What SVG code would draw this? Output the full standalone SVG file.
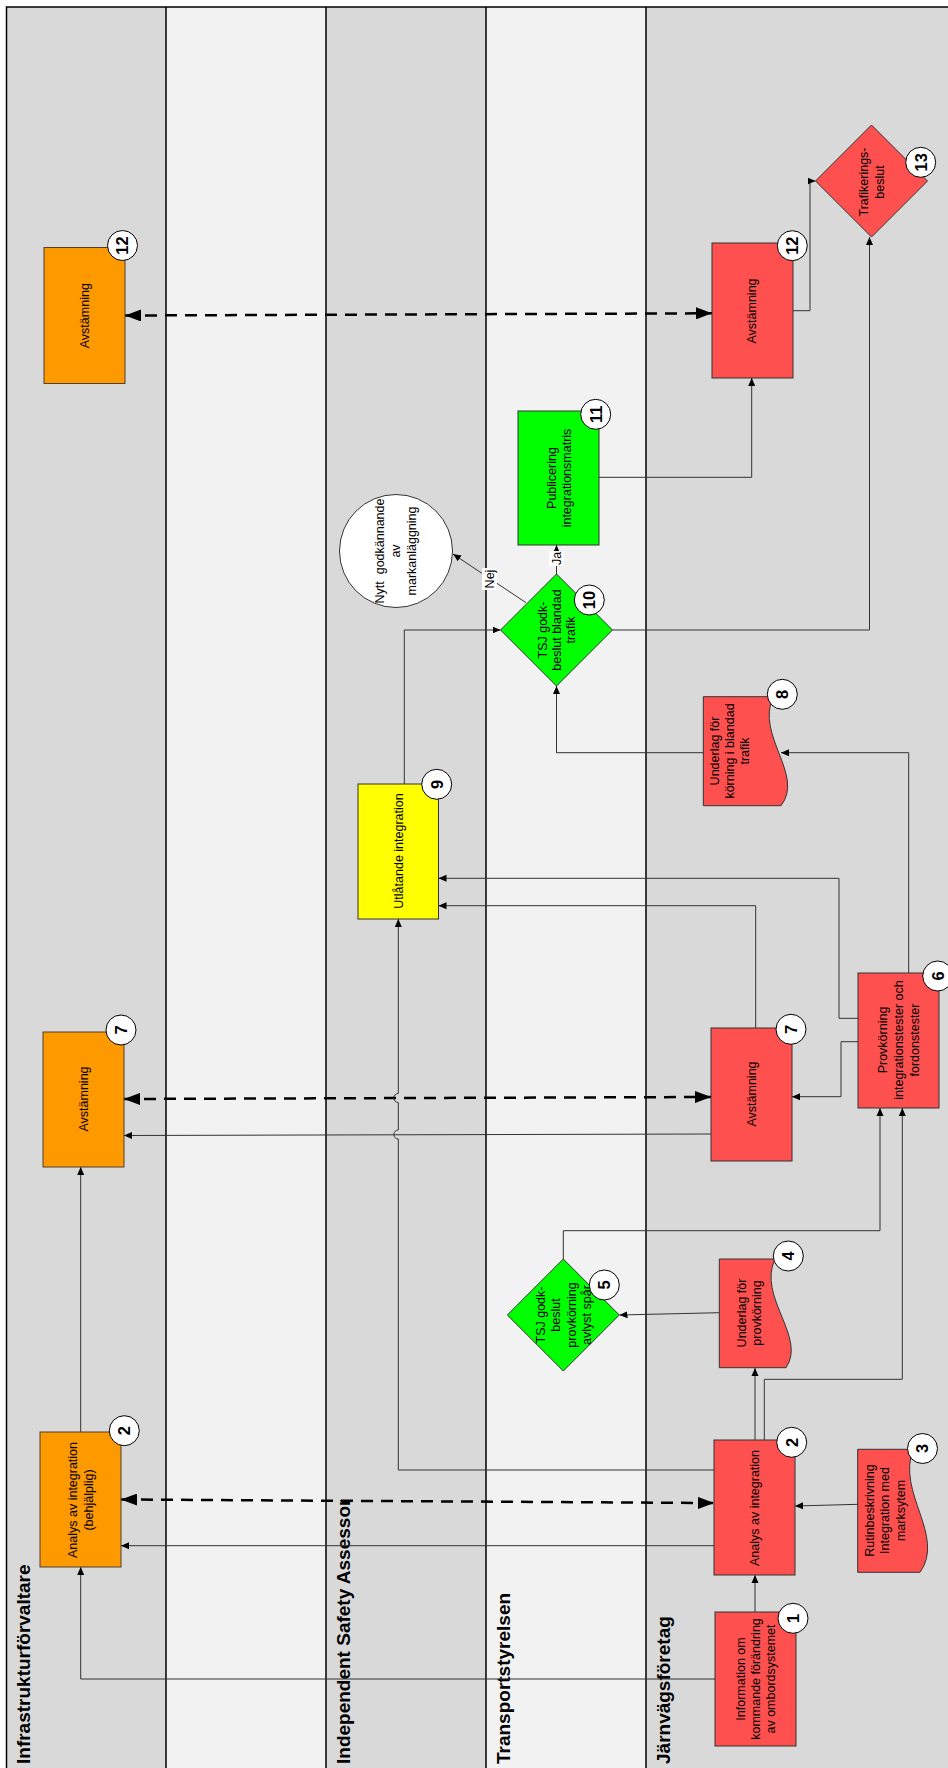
<svg xmlns="http://www.w3.org/2000/svg" width="948" height="1768" viewBox="0 0 948 1768">
<defs>
<style>
.lane-d{fill:#d9d9d9}
.lane-l{fill:#f2f2f2}
.div{stroke:#000;stroke-width:1.5;fill:none}
.lbl{font-family:"Liberation Sans",Arial,sans-serif;font-weight:bold;font-size:19px;fill:#000}
.t{font-family:"Liberation Sans",Arial,sans-serif;font-size:12.5px;fill:#000;text-anchor:middle}
.red{fill:#ff5050;stroke:#333;stroke-width:1}
.org{fill:#ff9900;stroke:#4d4030;stroke-width:1}
.grn{fill:#00ff00;stroke:#333;stroke-width:1}
.yel{fill:#ffff00;stroke:#333;stroke-width:1}
.wht{fill:#fff;stroke:#333;stroke-width:1}
.badge circle{fill:#fff;stroke:#000;stroke-width:1}
.badge text{font-family:"Liberation Sans",Arial,sans-serif;font-weight:bold;font-size:16.5px;text-anchor:middle;fill:#000}
.c{fill:none;stroke:#333;stroke-width:1;marker-end:url(#ah)}
.d{fill:none;stroke:#000;stroke-width:2.5;stroke-dasharray:12 8;marker-start:url(#bh);marker-end:url(#bh)}
.lb{fill:#fff}
</style>
<marker id="ah" viewBox="0 0 8 8" refX="8" refY="4" markerWidth="8" markerHeight="8" orient="auto" markerUnits="userSpaceOnUse"><path d="M0,0.5 L8,4 L0,7.5 z" fill="#000"/></marker>
<marker id="bh" viewBox="0 0 16 12" refX="16" refY="6" markerWidth="16" markerHeight="12" orient="auto-start-reverse" markerUnits="userSpaceOnUse"><path d="M0,0 L16,6 L0,12 z" fill="#000"/></marker>
<clipPath id="isaClip" clipPathUnits="userSpaceOnUse"><rect x="326" y="1500" width="160" height="268"/></clipPath>
</defs>

<g id="lanes">
<rect class="lane-d" x="6.5" y="7" width="159.5" height="1761"/>
<rect class="lane-l" x="166" y="7" width="160" height="1761"/>
<rect class="lane-d" x="326" y="7" width="160" height="1761"/>
<rect class="lane-l" x="486" y="7" width="160" height="1761"/>
<rect class="lane-d" x="646" y="7" width="302" height="1761"/>
<path class="div" d="M6.5,1768 V7 H948 M166,7 V1768 M326,7 V1768 M486,7 V1768 M646,7 V1768"/>
<text class="lbl" transform="translate(30,1764) rotate(-90)">Infrastrukturförvaltare</text>
<g clip-path="url(#isaClip)"><text class="lbl" transform="translate(349.5,1764) rotate(-90)">Independent Safety Assessor</text></g>
<text class="lbl" transform="translate(509.5,1764) rotate(-90)">Transportstyrelsen</text>
<text class="lbl" transform="translate(669.5,1764) rotate(-90)">Järnvägsföretag</text>
</g>

<g id="connectors">
<path class="c" d="M755,1612 V1575"/>
<path class="c" d="M715,1679 H80.7 V1567"/>
<path class="c" d="M80.7,1432 V1167"/>
<path class="c" d="M714,1545.7 H121"/>
<path class="d" d="M121,1499.5 L714,1503"/>
<path class="c" d="M858,1504.3 L795,1506"/>
<path class="c" d="M755,1440 V1368"/>
<path class="c" d="M764.3,1440 V1379.3 H902.3 V1108"/>
<path class="c" d="M714,1470 H398.3 V1139 a4.5,4.5 0 0 1 0,-9 V1102.5 a4.5,4.5 0 0 1 0,-9 V919"/>
<path class="c" d="M719.3,1312.7 L619.5,1315"/>
<path class="c" d="M563.3,1259 V1230.7 H880 V1108"/>
<path class="c" d="M858,1041.7 H841 V1096.7 H792"/>
<path class="c" d="M858,1018.3 H839 V878.3 H438.5"/>
<path class="c" d="M755.7,1028 V905.7 H438.5"/>
<path class="c" d="M711,1134 L124,1135.5"/>
<path class="d" d="M124,1099 L711,1097"/>
<path class="c" d="M908.7,973 V752.7 H781"/>
<path class="c" d="M703.3,752.7 H556.5 V686"/>
<path class="c" d="M404.3,784 V630 H500.5"/>
<path class="c" d="M556.5,574 V545"/>
<path class="c" d="M526,602.7 L453,554"/>
<path class="c" d="M612.5,630 H869.5 V237"/>
<path class="c" d="M599,477.3 H751.7 V378"/>
<path class="c" d="M793,310.7 H810 V181 H815.5"/>
<path class="d" d="M125,315.5 L712,313.3"/>
<rect class="lb" x="549" y="551" width="15" height="15"/>
<text class="t" transform="translate(556.5,558.5) rotate(-90)" y="4.4">Ja</text>
<rect class="lb" x="482" y="568" width="15" height="22"/>
<text class="t" transform="translate(489.5,579) rotate(-90)" y="4.4">Nej</text>
</g>

<g id="n12o">
<rect class="org" x="44" y="247.5" width="81" height="136"/>
<text class="t" transform="translate(85,315.7) rotate(-90)"><tspan x="0" y="4.4">Avstämning</tspan></text>
<g class="badge" transform="translate(122.5,245.5)"><circle r="15"/><text transform="rotate(-90)" y="5.8">12</text></g>
</g>

<g id="n12r">
<rect class="red" x="712" y="243" width="81" height="135"/>
<text class="t" transform="translate(752,311) rotate(-90)"><tspan x="0" y="4.4">Avstämning</tspan></text>
<g class="badge" transform="translate(792.3,245.7)"><circle r="15"/><text transform="rotate(-90)" y="5.8">12</text></g>
</g>

<g id="n13">
<polygon class="red" points="871.5,125 927.5,181 871.5,237 815.5,181"/>
<text class="t" transform="translate(871.5,182) rotate(-90)"><tspan x="0" y="-3.6">Trafikerings-</tspan><tspan x="0" y="12.4">beslut</tspan></text>
<g class="badge" transform="translate(920.7,162.3)"><circle r="15"/><text transform="rotate(-90)" y="5.8">13</text></g>
</g>

<g id="nNytt">
<circle class="wht" cx="396" cy="551" r="56.5"/>
<text class="t" transform="translate(396,551) rotate(-90)"><tspan x="0" y="-11.6" xml:space="preserve">Nytt  godkännande</tspan><tspan x="0" y="4.4">av</tspan><tspan x="0" y="20.4">markanläggning</tspan></text>
</g>

<g id="n11">
<rect class="grn" x="518" y="411" width="81" height="134"/>
<text class="t" transform="translate(559.2,478) rotate(-90)"><tspan x="0" y="-3.1">Publicering</tspan><tspan x="0" y="11.9">integrationsmatris</tspan></text>
<g class="badge" transform="translate(595.7,414.3)"><circle r="15"/><text transform="rotate(-90)" y="5.8">11</text></g>
</g>

<g id="n10">
<polygon class="grn" points="556.5,574 612.5,630 556.5,686 500.5,630"/>
<text class="t" transform="translate(556.5,630) rotate(-90)"><tspan x="0" y="-9.6">TSJ godk-</tspan><tspan x="0" y="4.4">beslut blandad</tspan><tspan x="0" y="18.4">trafik</tspan></text>
<g class="badge" transform="translate(589.3,600)"><circle r="15"/><text transform="rotate(-90)" y="5.8">10</text></g>
</g>

<g id="n8">
<path class="red" d="M703.3,696.7 H773.3 C755,735 805,775 781,805.7 H703.3 Z"/>
<text class="t" transform="translate(730,751) rotate(-90)"><tspan x="0" y="-10.6">Underlag för</tspan><tspan x="0" y="4.4">körning i blandad</tspan><tspan x="0" y="19.4">trafik</tspan></text>
<g class="badge" transform="translate(782.3,694.3)"><circle r="15"/><text transform="rotate(-90)" y="5.8">8</text></g>
</g>

<g id="n9">
<rect class="yel" x="358" y="784" width="80.5" height="135"/>
<text class="t" transform="translate(398.3,851) rotate(-90)"><tspan x="0" y="4.4">Utlåtande integration</tspan></text>
<g class="badge" transform="translate(436.7,784.3)"><circle r="15"/><text transform="rotate(-90)" y="5.8">9</text></g>
</g>

<g id="n7o">
<rect class="org" x="43" y="1032" width="81" height="135"/>
<text class="t" transform="translate(83.3,1099) rotate(-90)"><tspan x="0" y="4.4">Avstämning</tspan></text>
<g class="badge" transform="translate(121,1030)"><circle r="15"/><text transform="rotate(-90)" y="5.8">7</text></g>
</g>

<g id="n7r">
<rect class="red" x="711" y="1028" width="81" height="133"/>
<text class="t" transform="translate(751.5,1094) rotate(-90)"><tspan x="0" y="4.4">Avstämning</tspan></text>
<g class="badge" transform="translate(791,1029.3)"><circle r="15"/><text transform="rotate(-90)" y="5.8">7</text></g>
</g>

<g id="n6">
<rect class="red" x="858" y="973" width="81" height="135"/>
<text class="t" transform="translate(899,1040) rotate(-90)"><tspan x="0" y="-11.6">Provkörning</tspan><tspan x="0" y="4.4">integrationstester och</tspan><tspan x="0" y="20.4">fordonstester</tspan></text>
<g class="badge" transform="translate(937.7,976)"><circle r="15"/><text transform="rotate(-90)" y="5.8">6</text></g>
</g>

<g id="n5">
<polygon class="grn" points="563.3,1259 619.3,1315 563.3,1371 507.3,1315"/>
<text class="t" transform="translate(563.5,1315) rotate(-90)"><tspan x="0" y="-18.85">TSJ godk-</tspan><tspan x="0" y="-3.35">beslut</tspan><tspan x="0" y="12.15">provkörning</tspan><tspan x="0" y="27.65">avlyst spår</tspan></text>
<g class="badge" transform="translate(604.3,1285)"><circle r="15"/><text transform="rotate(-90)" y="5.8">5</text></g>
</g>

<g id="n4">
<path class="red" d="M719.3,1259 H775 C757,1297 807,1337 786,1367.7 H719.3 Z"/>
<text class="t" transform="translate(749.2,1313) rotate(-90)"><tspan x="0" y="-3.1">Underlag för</tspan><tspan x="0" y="11.9">provkörning</tspan></text>
<g class="badge" transform="translate(788.3,1256)"><circle r="15"/><text transform="rotate(-90)" y="5.8">4</text></g>
</g>

<g id="n2r">
<rect class="red" x="714" y="1440" width="81" height="135"/>
<text class="t" transform="translate(755,1508) rotate(-90)"><tspan x="0" y="4.4">Analys av integration</tspan></text>
<g class="badge" transform="translate(791.7,1442.3)"><circle r="15"/><text transform="rotate(-90)" y="5.8">2</text></g>
</g>

<g id="n2o">
<rect class="org" x="40" y="1432" width="81" height="135"/>
<text class="t" transform="translate(80.5,1500) rotate(-90)"><tspan x="0" y="-3.4">Analys av integration</tspan><tspan x="0" y="12.2">(behjälplig)</tspan></text>
<g class="badge" transform="translate(124.3,1430.7)"><circle r="15"/><text transform="rotate(-90)" y="5.8">2</text></g>
</g>

<g id="n3">
<path class="red" d="M857.7,1449.3 H913.3 C896,1492 946,1536 920,1572.3 H857.7 Z"/>
<text class="t" transform="translate(884.7,1510.5) rotate(-90)"><tspan x="0" y="-11.1">Rutinbeskrivning</tspan><tspan x="0" y="4.4">Integration med</tspan><tspan x="0" y="19.9">marksytem</tspan></text>
<g class="badge" transform="translate(922.5,1448.5)"><circle r="15"/><text transform="rotate(-90)" y="5.8">3</text></g>
</g>

<g id="n1">
<rect class="red" x="715" y="1612" width="81" height="134"/>
<text class="t" transform="translate(755.5,1679) rotate(-90)"><tspan x="0" y="-11">Information om</tspan><tspan x="0" y="4.4">kommande förändring</tspan><tspan x="0" y="19.8">av ombordsystemet</tspan></text>
<g class="badge" transform="translate(793,1618.3)"><circle r="15"/><text transform="rotate(-90)" y="5.8">1</text></g>
</g>
</svg>
